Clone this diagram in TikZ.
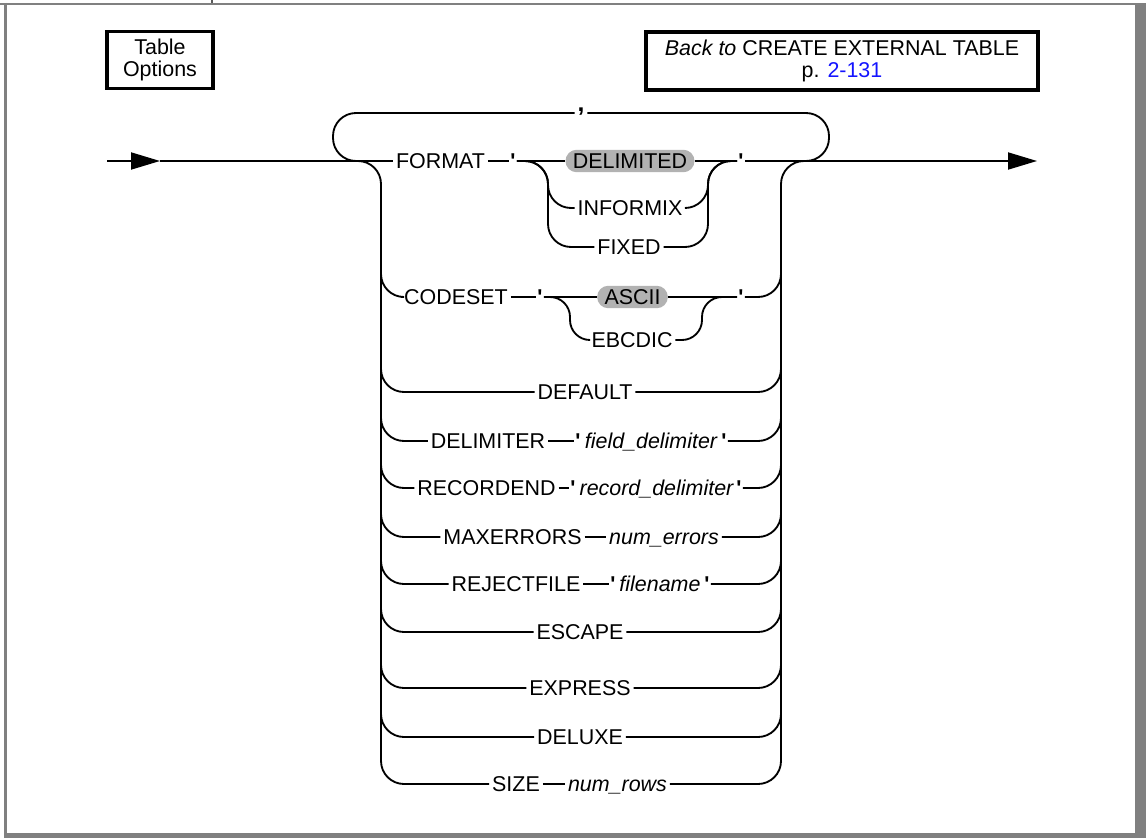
\documentclass[tikz,border=0pt]{standalone}
\usepackage{fontspec}
\setmainfont{Liberation Sans}
\usetikzlibrary{arrows.meta}

\definecolor{pillgray}{gray}{0.7}
\definecolor{framegray}{gray}{0.5}
\definecolor{linkblue}{rgb}{0.08,0.08,1}

\newcommand{\diafont}{\fontsize{12.2}{12.2}\selectfont}
\newcommand{\qmark}{\textbf{\textquotesingle}}

\tikzset{
  kw/.style={inner xsep=1.5pt, inner ysep=0pt, text height=10.4pt, text depth=1.6pt},
  var/.style={kw, font=\diafont\itshape},
  qt/.style={kw, inner xsep=0.6pt},
  pill/.style={kw, fill=pillgray, inner xsep=4.2pt, inner ysep=0.4pt, rounded corners=6.4pt},
  rail/.style={line width=1.05pt, rounded corners=0.46cm},
  srail/.style={line width=1.05pt, rounded corners=0.4cm},
  refbox/.style={rectangle, draw, line width=1.8pt, align=center, inner sep=0pt},
  arrowhead/.style={-{Triangle[length=0.58cm, width=0.34cm]}}
}

\begin{document}
\begin{tikzpicture}[x=0.02cm, y=-0.02cm, font=\diafont]
    \useasboundingbox (0,0) rectangle (1147,838);

    % page frame
    \draw[framegray, line width=1.2pt] (0,3.7) -- (1140,3.7);
    \draw[framegray, line width=1.6pt] (5.2,3) -- (5.2,838);
    \fill[framegray] (1135,3) rectangle (1146,838);
    \fill[framegray] (4,833) rectangle (1146,838);
    \draw[framegray!70!black, line width=0.6pt] (212,0) -- (212,3);

    % title boxes
    \node[refbox, minimum width=2.12cm, minimum height=1.14cm] (opts) at (160,60) {Table\\Options};
    \node[refbox, minimum width=7.84cm, minimum height=1.16cm] (back) at (842,61) {\textit{Back to} CREATE EXTERNAL TABLE\\p. \textcolor{linkblue}{2-131}};

    % junctions of the main line
    \coordinate (start) at (107,161);
    \coordinate (tip) at (160,161);
    \coordinate (finish) at (1037,161);
    \coordinate (lin) at (357,161);
    \coordinate (rout) at (805,161);
    \coordinate (lrail) at (381,185);
    \coordinate (rrail) at (781,185);
    \coordinate (loopl) at (333,113);
    \coordinate (loopr) at (829,113);

    % FORMAT
    \node[kw] (format) at (440.5,161) {FORMAT};
    \node[qt] (fq1) at (513,161) {\qmark};
    \node[pill] (delimited) at (630,161) {DELIMITED};
    \node[qt] (fq2) at (741,161) {\qmark};
    \node[kw] (informix) at (630,208) {INFORMIX};
    \node[kw] (fixed) at (629,247) {FIXED};
    \coordinate (fl) at (548,161);
    \coordinate (fr) at (708,161);

    \draw[rail, arrowhead] (start) -- (tip);
    \draw[rail] (tip) -- (format.west);
    \draw[rail] (format) -- (fq1);
    \draw[rail] (fq1) -- (delimited);
    \draw[rail] (delimited) -- (fq2);
    \draw[rail, arrowhead] (fq2.east) -- (finish);
    \draw[rail] (fq1.east) -| (informix.west -| fl) -- (informix.west);
    \draw[rail] (fq1.east) -| (fixed.west -| fl) -- (fixed.west);
    \draw[rail] (informix.east) -| (fr) -- (fq2.west);
    \draw[rail] (fixed.east) -| (fr) -- (fq2.west);

    % repeat loop with the comma
    \node[kw, font=\fontsize{14}{14}\selectfont\bfseries, text height=0pt, text depth=2.2pt] (comma) at (581,113) {,};
    \draw[rail] (comma.west) -- (loopl) |- (lin);
    \draw[rail] (comma.east) -- (loopr) |- (rout);

    % side rails
    \draw[rail] (lin) -| (lrail);
    \draw[rail] (rrail) |- (rout);

    % CODESET
    \node[kw] (codeset) at (456,297) {CODESET};
    \node[qt] (cq1) at (540,297) {\qmark};
    \node[pill] (ascii) at (632.5,297) {ASCII};
    \node[qt] (cq2) at (741,297) {\qmark};
    \node[kw] (ebcdic) at (632,340) {EBCDIC};
    \coordinate (cl) at (570,297);
    \coordinate (cr) at (702,297);

    \draw[rail] (lrail) |- (codeset.west);
    \draw[rail] (codeset) -- (cq1);
    \draw[rail] (cq1) -- (ascii);
    \draw[rail] (ascii) -- (cq2);
    \draw[rail] (cq2.east) -| (rrail);
    \draw[srail] (cq1.east) -| (ebcdic.west -| cl) -- (ebcdic.west);
    \draw[srail] (ebcdic.east) -| (cr) -- (cq2.west);

    % DEFAULT
    \node[kw] (default) at (585,392) {DEFAULT};
    \draw[rail] (lrail) |- (default.west);
    \draw[rail] (default.east) -| (rrail);

    % DELIMITER
    \node[kw] (delimiter) at (488,441) {DELIMITER};
    \node[qt] (dq1) at (578,441) {\qmark};
    \node[var] (fielddelim) at (651,441) {field\_delimiter};
    \node[qt] (dq2) at (724,441) {\qmark};
    \draw[rail] (lrail) |- (delimiter.west);
    \draw[rail] (delimiter) -- (dq1);
    \draw[rail] (dq2.east) -| (rrail);

    % RECORDEND
    \node[kw] (recordend) at (486.5,488) {RECORDEND};
    \node[qt] (rq1) at (573,488) {\qmark};
    \node[var] (recdelim) at (656.5,488) {record\_delimiter};
    \node[qt] (rq2) at (739,488) {\qmark};
    \draw[rail] (lrail) |- (recordend.west);
    \draw[rail] (recordend) -- (rq1);
    \draw[rail] (rq2.east) -| (rrail);

    % MAXERRORS
    \node[kw] (maxerrors) at (512.5,537) {MAXERRORS};
    \node[var] (numerrors) at (664,537) {num\_errors};
    \draw[rail] (lrail) |- (maxerrors.west);
    \draw[rail] (maxerrors) -- (numerrors);
    \draw[rail] (numerrors.east) -| (rrail);

    % REJECTFILE
    \node[kw] (rejectfile) at (516,584) {REJECTFILE};
    \node[qt] (jq1) at (613,584) {\qmark};
    \node[var] (filename) at (660,584) {filename};
    \node[qt] (jq2) at (707,584) {\qmark};
    \draw[rail] (lrail) |- (rejectfile.west);
    \draw[rail] (rejectfile) -- (jq1);
    \draw[rail] (jq2.east) -| (rrail);

    % ESCAPE, EXPRESS, DELUXE
    \node[kw] (escape) at (580,632) {ESCAPE};
    \draw[rail] (lrail) |- (escape.west);
    \draw[rail] (escape.east) -| (rrail);

    \node[kw] (express) at (580,688) {EXPRESS};
    \draw[rail] (lrail) |- (express.west);
    \draw[rail] (express.east) -| (rrail);

    \node[kw] (deluxe) at (580,737) {DELUXE};
    \draw[rail] (lrail) |- (deluxe.west);
    \draw[rail] (deluxe.east) -| (rrail);

    % SIZE
    \node[kw] (size) at (516,784) {SIZE};
    \node[var] (numrows) at (617.5,784) {num\_rows};
    \draw[rail] (lrail) |- (size.west);
    \draw[rail] (size) -- (numrows);
    \draw[rail] (numrows.east) -| (rrail);
\end{tikzpicture}
\end{document}
